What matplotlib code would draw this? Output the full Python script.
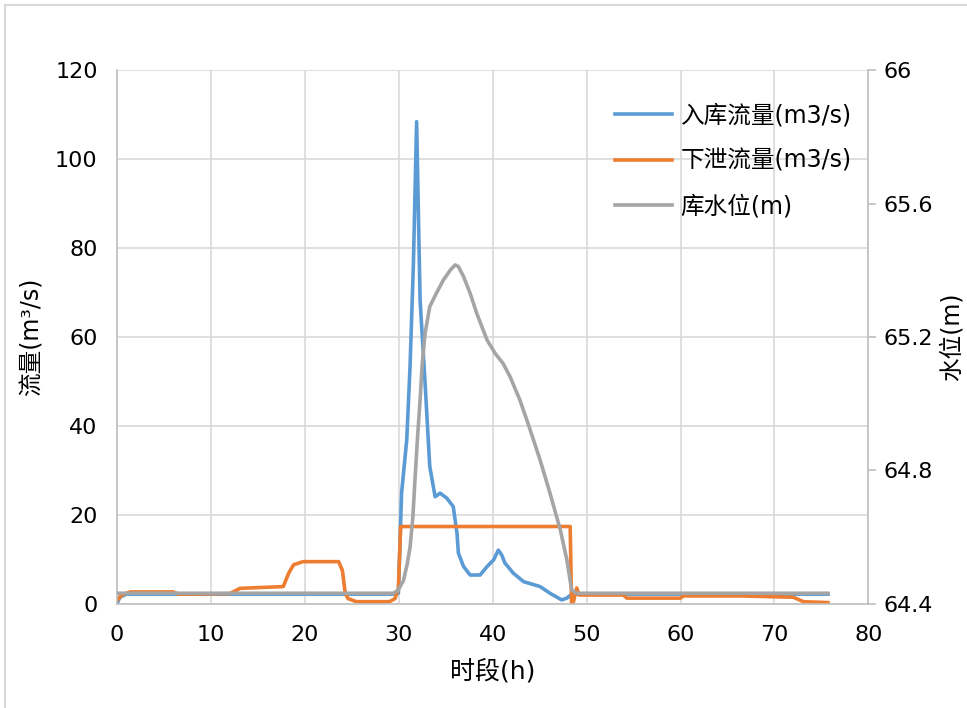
import matplotlib
matplotlib.use("Agg")
from matplotlib import pyplot as plt
from matplotlib.lines import Line2D

plt.rcParams['font.family'] = ['DejaVu Sans', 'Noto Sans CJK SC']

# inflow (m3/s)
t_in = [0, 0.3, 1, 6, 12, 20, 29.5, 29.96, 30.3, 30.85, 31.2, 31.55, 31.9, 32.27, 32.8,
        33.3, 33.87, 34.4, 35.1, 35.8, 36.2, 36.35, 36.9, 37.6, 38.66, 39.4, 40.1,
        40.6, 40.96, 41.3, 42.2, 43.3, 45.05, 46.1, 47.35, 47.9, 48.4, 48.9, 60, 75.7]
q_in = [0.0, 1.5, 2.2, 2.2, 2.2, 2.2, 2.2, 2.4, 24.9, 36.9, 53.3, 75.8, 108.4, 68.3, 49.7,
        30.9, 24.1, 24.9, 23.8, 21.9, 15.9, 11.4, 8.4, 6.5, 6.5, 8.4, 9.9,
        12.1, 11.0, 9.2, 6.9, 5.0, 3.9, 2.4, 0.9, 1.3, 2.2, 2.2, 2.2, 2.2]

# outflow (m3/s)
t_out = [0, 0.5, 1.4, 6, 6.5, 12.0, 13.1, 17.7, 18.3, 18.8, 19.8, 23.6, 24.0, 24.3, 24.6,
         25.5, 29.0, 29.6, 29.96, 30.2, 48.25, 48.4, 48.6, 48.95, 49.2, 53.9, 54.3, 60,
         60.3, 66.3, 72, 73.1, 75.7]
q_out = [0.8, 2.0, 2.7, 2.7, 2.2, 2.3, 3.5, 3.9, 7.0, 8.8, 9.5, 9.5, 7.5, 2.4, 1.2,
         0.5, 0.5, 1.2, 3.5, 17.4, 17.4, 0.0, 0.5, 3.6, 2.0, 2.0, 1.3, 1.3,
         1.8, 1.8, 1.5, 0.5, 0.3]

# reservoir level (m)
t_lv = [0, 29.4, 29.9, 30.5, 30.9, 31.2, 31.5, 31.7, 32.0, 32.27, 32.5, 32.8, 33.3, 34.0,
        34.75, 35.5, 36.0, 36.35, 36.9, 37.6, 38.3, 39.4, 40.26, 41.1, 41.85, 42.9, 44.0,
        45.05, 46.1, 47.2, 47.9, 48.4, 48.9, 75.7]
z_lv = [64.432, 64.432, 64.440, 64.470, 64.520, 64.570, 64.660, 64.760, 64.900, 65.011,
        65.120, 65.211, 65.291, 65.331, 65.371, 65.401, 65.416, 65.411, 65.381, 65.331,
        65.271, 65.191, 65.151, 65.121, 65.081, 65.011, 64.921, 64.831, 64.732, 64.622,
        64.532, 64.442, 64.432, 64.432]

blue = '#5b9bd5'
orange = '#ed7d31'
gray = '#a5a5a5'
grid = '#d9d9d9'

fig = plt.figure(figsize=(9.67, 7.08), dpi=100)
ax = fig.add_axes([0.121, 0.147, 0.777, 0.754])
ax2 = ax.twinx()

ax.plot(t_in, q_in, color=blue, linewidth=2.6)
ax.plot(t_out, q_out, color=orange, linewidth=2.6)
ax2.plot(t_lv, z_lv, color=gray, linewidth=2.6)

ax.set_xlim(0, 80)
ax.set_ylim(0, 120)
ax.set_xticks(range(0, 81, 10))
ax.set_yticks(range(0, 121, 20))
ax2.set_ylim(64.4, 66)
ax2.set_yticks([64.4, 64.8, 65.2, 65.6, 66])
ax2.set_yticklabels(['64.4', '64.8', '65.2', '65.6', '66'])

ax.grid(True, color=grid, linewidth=1.2)
ax.set_axisbelow(True)
ax.spines['top'].set_visible(False)
ax2.spines['top'].set_visible(False)
ax.spines['right'].set_visible(False)
ax2.spines['left'].set_visible(False)
ax2.spines['bottom'].set_visible(False)
for s in (ax.spines['left'], ax.spines['bottom'], ax2.spines['right']):
    s.set_color('#bfbfbf')
    s.set_linewidth(1.2)

ax.tick_params(axis='x', length=0, labelsize=16, pad=15)
ax.tick_params(axis='y', length=0, labelsize=16, pad=14)
ax2.tick_params(axis='y', length=6, width=1.2, color='#bfbfbf', labelsize=16, pad=5)

ax.set_xlabel('时段(h)', fontsize=18, labelpad=10)
ax.set_ylabel('流量(m³/s)', fontsize=17, labelpad=8)
ax2.set_ylabel('水位(m)', fontsize=17)
ax2.yaxis.set_label_coords(1.095, 0.5)

handles = [Line2D([], [], color=blue, linewidth=2.6),
           Line2D([], [], color=orange, linewidth=2.6),
           Line2D([], [], color=gray, linewidth=2.6)]
ax2.legend(handles, ['入库流量(m3/s)', '下泄流量(m3/s)', '库水位(m)'],
           loc='upper left', bbox_to_anchor=(0.635, 0.977), frameon=False,
           fontsize=17, handlelength=2.4, handletextpad=0.35, labelspacing=0.9)

# outer chart border (left and top edges visible)
fig.add_artist(Line2D([5 / 967, 5 / 967], [0, 1 - 5 / 708], transform=fig.transFigure,
                      color='#d9d9d9', linewidth=1.5))
fig.add_artist(Line2D([5 / 967, 1], [1 - 5 / 708, 1 - 5 / 708], transform=fig.transFigure,
                      color='#d9d9d9', linewidth=1.5))

fig.savefig('out.png', dpi=100)
